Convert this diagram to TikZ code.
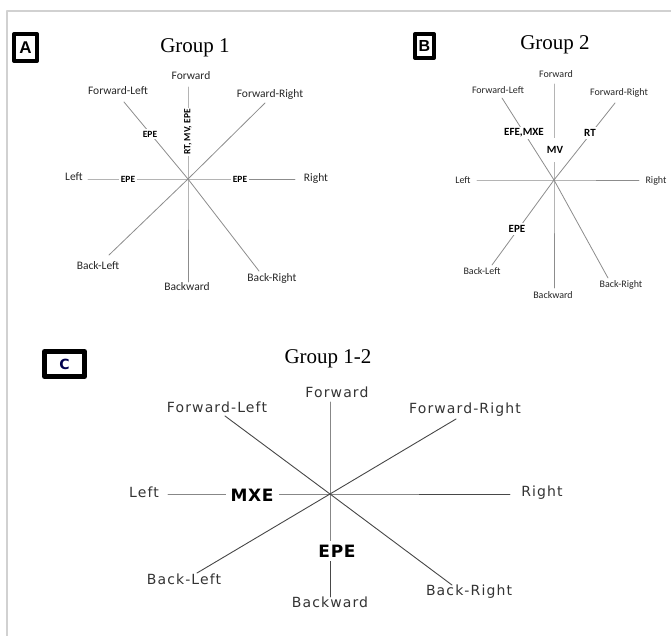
\documentclass[tikz,border=0pt]{standalone}
\usepackage{fontspec}
\setmainfont{Liberation Serif}
\newfontfamily\calfont{Carlito}
\newfontfamily\widefont[LetterSpace=8]{DejaVu Sans}
\newfontfamily\widebold[LetterSpace=4]{DejaVu Sans}
\newfontfamily\boxfont{Liberation Sans}
\tikzset{
  grouptitle/.style={font=\fontsize{21}{24}\selectfont, anchor=base, inner sep=0pt},
  panelbox/.style={draw, line width=#1, inner sep=0pt, font=\boxfont\bfseries},
  rayab/.style={draw=black!45, line width=0.8pt},
  rayc/.style={draw=black!72, line width=0.9pt},
  labA/.style={font=\calfont\fontsize{11.5}{13}\selectfont, text=black!85, inner sep=0pt},
  labB/.style={font=\calfont\fontsize{10}{12}\selectfont, text=black!85, inner sep=0pt},
  labC/.style={font=\widefont\fontsize{14}{16}\selectfont, text=black!80, inner sep=0pt},
  tagA/.style={font=\calfont\bfseries\fontsize{9.5}{11}\selectfont, fill=white, inner sep=1.5pt},
  tagB/.style={font=\calfont\bfseries\fontsize{11}{13}\selectfont, fill=white, inner sep=2pt},
  tagC/.style={font=\widebold\bfseries\fontsize{17}{19}\selectfont, fill=white, inner xsep=5pt, inner ysep=4pt}
}
\begin{document}
\begin{tikzpicture}[x=1pt, y=-1pt, line cap=round, line join=round]
  \useasboundingbox (0,0) rectangle (671,636);
  % frame
  \draw[black!18, line width=2pt] (7,636) -- (7,11) -- (671,11);

  % panel A
  \node[panelbox=4pt, minimum width=23pt, minimum height=27pt, font=\boxfont\bfseries\fontsize{17}{19}\selectfont] (boxA) at (25.5,47.5) {A};
  \node[grouptitle] (titleA) at (195,53) {Group 1};
  \path
  (188,179) coordinate (OA)
  (188,87) coordinate (Af)
  (124,102) coordinate (Afl)
  (265,103) coordinate (Afr)
  (88,179) coordinate (Al)
  (295,179) coordinate (Ar)
  (109,255) coordinate (Abl)
  (188,282) coordinate (Ab)
  (259,271) coordinate (Abr)
  ;
  \draw[rayab] (Af) -- (OA) -- (Ab);
  \draw[rayab] (Al) -- (OA) -- (Ar);
  \draw[rayab] (Afl) -- (OA) -- (Abr);
  \draw[rayab] (Afr) -- (OA) -- (Abl);
  \foreach \n/\x/\y/\t in {AF/191/76/Forward, AFL/118/91/Forward-Left, AFR/270/94/Forward-Right, AL/74/177/Left, AR/316/178/Right, ABL/98/266/Back-Left, AB/187/287/Backward, ABR/272/278/Back-Right}{
    \node[labA] (\n) at (\x,\y) {\t};
  }
  \node[tagA] (eAl) at (128,179) {EPE};
  \node[tagA] (eAr) at (240,179) {EPE};
  \node[tagA] (eAfl) at (150,134) {EPE};
  \node[tagA, rotate=90] (eAf) at (188,132) {RT, MV, EPE};

  % panel B
  \node[panelbox=4pt, minimum width=19pt, minimum height=24pt, font=\boxfont\bfseries\fontsize{16}{18}\selectfont] (boxB) at (424.5,46) {B};
  \node[grouptitle] (titleB) at (555,50) {Group 2};
  \path
  (554,180) coordinate (OB)
  (554,84) coordinate (Bf)
  (502,98) coordinate (Bfl)
  (615,103) coordinate (Bfr)
  (477,180) coordinate (Bl)
  (639,180) coordinate (Br)
  (492,265) coordinate (Bbl)
  (554,288) coordinate (Bb)
  (608,278) coordinate (Bbr)
  ;
  \draw[rayab] (Bf) -- (OB) -- (Bb);
  \draw[rayab] (Bl) -- (OB) -- (Br);
  \draw[rayab] (Bfl) -- (OB) -- (Bbr);
  \draw[rayab] (Bfr) -- (OB) -- (Bbl);
  \foreach \n/\x/\y/\t in {BF/556/74/Forward, BFL/498/90/Forward-Left, BFR/619/93/Forward-Right, BL/463/180/Left, BR/656/181/Right, BBL/482/271/Back-Left, BB/553/295/Backward, BBR/621/285/Back-Right}{
    \node[labB] (\n) at (\x,\y) {\t};
  }
  \node[tagB] (eBfl) at (524,133) {EFE,MXE};
  \node[tagB, inner ysep=8pt] (eBf) at (555,150) {MV};
  \node[tagB] (eBfr) at (590,133) {RT};
  \node[tagB] (eBbl) at (517,229) {EPE};

  % panel C
  \node[panelbox=5pt, minimum width=40pt, minimum height=25pt, text=blue!30!black, font=\widefont\bfseries\fontsize{14}{16}\selectfont] (boxC) at (64.5,364) {C};
  \node[grouptitle] (titleC) at (328,363) {Group 1-2};
  \path
  (330,494) coordinate (OC)
  (330,402) coordinate (Cf)
  (225,416) coordinate (Cfl)
  (456,419) coordinate (Cfr)
  (168,494) coordinate (Cl)
  (510,494) coordinate (Cr)
  (197,573) coordinate (Cbl)
  (330,597) coordinate (Cb)
  (452,585) coordinate (Cbr)
  ;
  \draw[rayc] (Cf) -- (OC) -- (Cb);
  \draw[rayc] (Cl) -- (OC) -- (Cr);
  \draw[rayc] (Cfl) -- (OC) -- (Cbr);
  \draw[rayc] (Cfr) -- (OC) -- (Cbl);
  \foreach \n/\x/\y/\t in {CF/337/392/Forward, CFL/217/407/Forward-Left, CFR/465/410/Forward-Right, CL/144/492/Left, CR/542/493/Right, CBL/184/579/Back-Left, CB/330/602/Backward, CBR/469/592/Back-Right}{
    \node[labC] (\n) at (\x,\y) {\t};
  }
  \node[tagC] (eCl) at (252,495) {MXE};
  \node[tagC] (eCb) at (337,551) {EPE};
\end{tikzpicture}
\end{document}
